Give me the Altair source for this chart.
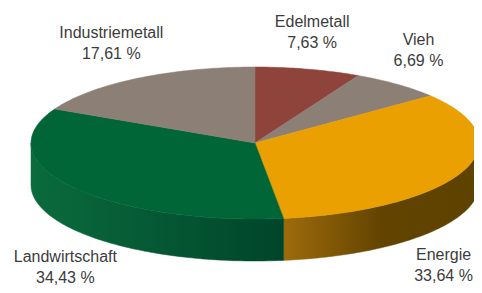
import math
import altair as alt
import pandas as pd

# ---- data ----
categories = ["Edelmetall", "Vieh", "Energie", "Landwirtschaft", "Industriemetall"]
shares = [7.63, 6.69, 33.64, 34.43, 17.61]
top_colors = ["#8E443A", "#8C7F75", "#E9A000", "#006638", "#8C7F75"]

# ---- layout (page pixel units) ----
CX, CY, RX, RY, DEPTH = 255, 143, 224, 76, 42
label_offsets = {
    "Edelmetall": (4, -42),
    "Vieh": (21, -39),
    "Energie": (-19, 88),
    "Landwirtschaft": (-7, 75),
    "Industriemetall": (-26, -40),
}


def ex(a):
    return CX + RX * math.sin(math.radians(a))


def ey(a):
    return CY - RY * math.cos(math.radians(a))


total = sum(shares)
starts, ends = [], []
acc = 0.0
for v in shares:
    starts.append(acc / total * 360)
    acc += v
    ends.append(acc / total * 360)

top_rows, side_rows, text_rows = [], [], []
for c, v, a1, a2 in zip(categories, shares, starts, ends):
    n = max(2, int(a2 - a1) + 1)
    top_rows.append(dict(cat=c, i=0, x=CX, y=CY))
    for k in range(n + 1):
        a = a1 + (a2 - a1) * k / n
        top_rows.append(dict(cat=c, i=k + 1, x=ex(a), y=ey(a)))
    lo, hi = max(a1, 90), min(a2, 270)
    if lo < hi:
        m = max(2, int(hi - lo) + 1)
        pts = [lo + (hi - lo) * k / m for k in range(m + 1)]
        j = 0
        for a in pts:
            side_rows.append(dict(cat=c, i=j, x=ex(a), y=ey(a)))
            j += 1
        for a in reversed(pts):
            side_rows.append(dict(cat=c, i=j, x=ex(a), y=ey(a) + DEPTH))
            j += 1
    mid = (a1 + a2) / 2
    dx, dy = label_offsets[c]
    text_rows.append(dict(cat=c, label=[c, f"{v:.2f}".replace(".", ",") + " %"],
                          x=ex(mid) + dx, y=ey(mid) + dy))

top_df = pd.DataFrame(top_rows)
side_df = pd.DataFrame(side_rows)
text_df = pd.DataFrame(text_rows)

xs = alt.Scale(domain=[8, 474], nice=False, zero=False)
ys = alt.Scale(domain=[8, 285], reverse=True, nice=False, zero=False)
X = alt.X("x:Q", scale=xs, axis=None)
Y = alt.Y("y:Q", scale=ys, axis=None)

grad_energy = alt.Gradient(
    gradient="linear", x1=0, y1=0, x2=1, y2=0,
    stops=[alt.GradientStop(offset=0, color="#9E6B0C"),
           alt.GradientStop(offset=0.5, color="#624400"),
           alt.GradientStop(offset=1, color="#5E4200")])
grad_land = alt.Gradient(
    gradient="linear", x1=0, y1=0, x2=1, y2=0,
    stops=[alt.GradientStop(offset=0, color="#0A6B3D"),
           alt.GradientStop(offset=1, color="#00452A")])

side_e = alt.Chart(side_df).transform_filter(alt.datum.cat == "Energie").mark_line(
    interpolate="linear-closed", fill=grad_energy, stroke=grad_energy, strokeWidth=0.5
).encode(x=X, y=Y, order="i:Q")

side_l = alt.Chart(side_df).transform_filter(alt.datum.cat == "Landwirtschaft").mark_line(
    interpolate="linear-closed", fill=grad_land, stroke=grad_land, strokeWidth=0.5
).encode(x=X, y=Y, order="i:Q")

cscale = alt.Scale(domain=categories, range=top_colors)
tops = alt.Chart(top_df).mark_line(interpolate="linear-closed", strokeWidth=0.5).encode(
    x=X, y=Y, order="i:Q", detail="cat:N",
    fill=alt.Fill("cat:N", scale=cscale, legend=None),
    stroke=alt.Stroke("cat:N", scale=cscale, legend=None),
)

texts = alt.Chart(text_df).mark_text(
    align="center", baseline="alphabetic", fontSize=16, lineHeight=21,
    font="Liberation Sans", color="#3C3C3C"
).encode(x=X, y=Y, text="label")

chart = alt.layer(side_e, side_l, tops, texts).properties(
    width=466, height=277, padding=0,
    autosize=alt.AutoSizeParams(type="none"),
).configure_view(stroke=None)

chart.save("out.html", embed_options={"renderer": "svg", "actions": False})
